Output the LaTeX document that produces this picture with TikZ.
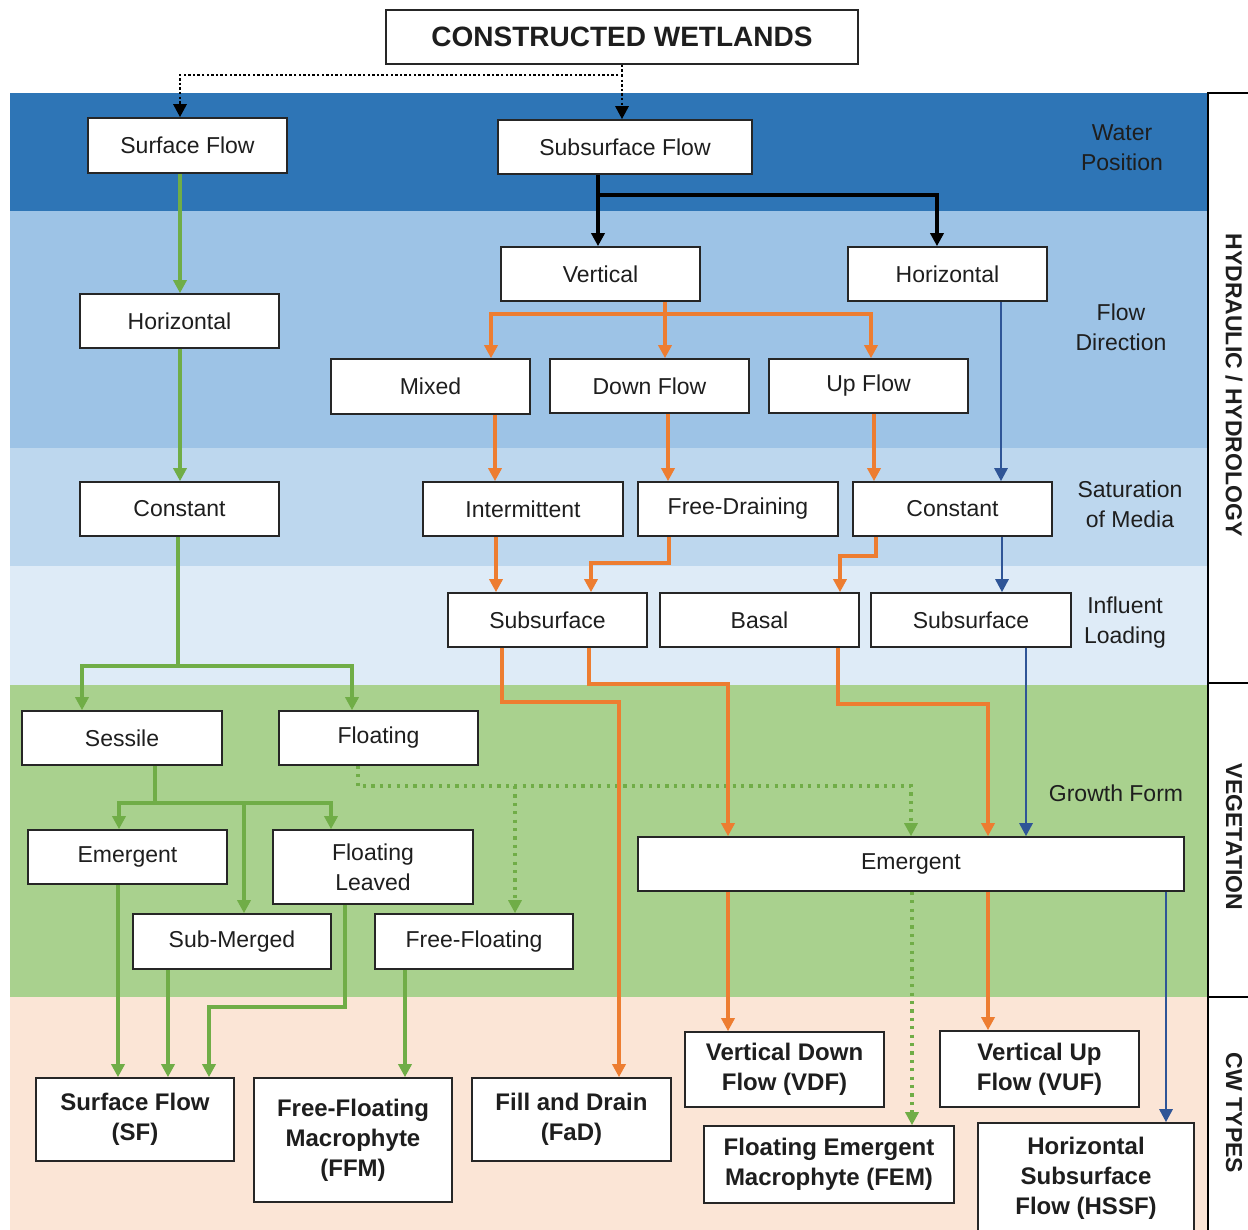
\documentclass[tikz,border=0pt]{standalone}
\usepackage{fontspec}
\setmainfont{Liberation Sans}
\usetikzlibrary{arrows.meta}
\definecolor{bandA}{HTML}{2E75B6}
\definecolor{bandB}{HTML}{9DC3E6}
\definecolor{bandC}{HTML}{BDD7EE}
\definecolor{bandD}{HTML}{DEEBF7}
\definecolor{bandE}{HTML}{A9D18E}
\definecolor{bandF}{HTML}{FBE5D6}
\definecolor{lgreen}{HTML}{70AD47}
\definecolor{lorange}{HTML}{ED7D31}
\definecolor{lblue}{HTML}{2F5597}
\definecolor{txt}{HTML}{1E1E1E}
\newcommand\bnode[7][]{%
  \pgfmathsetmacro\bcx{(#3+#5)/2}%
  \pgfmathsetmacro\bcy{(#4+#6)/2}%
  \pgfmathsetmacro\bw{(#5-#3)*0.5}%
  \pgfmathsetmacro\bh{(#6-#4)*0.5}%
  \node[box,minimum width=\bw pt,minimum height=\bh pt,#1] (#2) at (\bcx,\bcy) {#7};}
\begin{document}
\begin{tikzpicture}[x=0.5pt,y=-0.5pt,
  box/.style={draw=black!85,line width=0.8pt,fill=white,inner sep=1pt,align=center,text=txt,
    font=\fontsize{11.5}{15}\selectfont},
  cwtype/.style={font=\bfseries\fontsize{12}{15}\selectfont},
  titlebox/.style={font=\bfseries\fontsize{14}{16}\selectfont},
  bandlabel/.style={align=center,text=txt,font=\fontsize{11.5}{15}\selectfont},
  sidelabel/.style={rotate=-90,text=txt,font=\bfseries\fontsize{11.5}{13}\selectfont},
  tip/.style={-{Triangle[length=6.5pt,width=6.5pt]}},
  gline/.style={draw=lgreen,line width=1.7pt},
  gdot/.style={draw=lgreen,line width=1.6pt,dash pattern=on 1.6pt off 2.6pt},
  oline/.style={draw=lorange,line width=1.7pt},
  bline/.style={draw=lblue,line width=1.4pt},
  kline/.style={draw=black,line width=1.8pt},
  kdot/.style={draw=black,line width=1.4pt,dash pattern=on 1.2pt off 1.1pt},
  panel/.style={draw=black,line width=1.2pt}
]
\useasboundingbox[fill=white] (0,0) rectangle (1248,1230);
% bands
\fill[bandA] (10,93) rectangle (1208,211);
\fill[bandB] (10,211) rectangle (1208,448);
\fill[bandC] (10,448) rectangle (1208,566);
\fill[bandD] (10,566) rectangle (1208,685);
\fill[bandE] (10,685) rectangle (1208,997);
\fill[bandF] (10,997) rectangle (1208,1230);
% right panel
\draw[panel] (1248,93) -- (1208,93) -- (1208,1232);
\draw[panel] (1208,683) -- (1248,683);
\draw[panel] (1208,997) -- (1248,997);
\node[sidelabel] (sideA) at (1234,385) {HYDRAULIC / HYDROLOGY};
\node[sidelabel] (sideB) at (1234,837) {VEGETATION};
\node[sidelabel] (sideC) at (1234,1113) {CW TYPES};
% band labels
\node[bandlabel] (lwater) at (1122,148) {Water\\Position};
\node[bandlabel] (lflow) at (1121,327) {Flow\\Direction};
\node[bandlabel] (lsat) at (1130,504) {Saturation\\of Media};
\node[bandlabel] (linf) at (1125,623) {Influent\\Loading};
\node[bandlabel] (lgrow) at (1116,793) {Growth Form};
% nodes
\bnode[titlebox]{title}{386}{10}{858}{64}{CONSTRUCTED WETLANDS}
\bnode{sflow}{88}{118}{287}{173}{Surface Flow}
\bnode{subflow}{498}{120}{752}{174}{Subsurface Flow}
\bnode{vert}{501}{247}{700}{301}{Vertical}
\bnode{hor}{848}{247}{1047}{301}{Horizontal}
\bnode{hleft}{80}{294}{279}{348}{Horizontal}
\bnode{mixed}{331}{359}{530}{414}{Mixed}
\bnode{downf}{550}{359}{749}{413}{Down Flow}
\bnode{upf}{769}{359}{968}{413}{Up Flow}
\bnode{cleft}{80}{482}{279}{536}{Constant}
\bnode{interm}{423}{482}{623}{536}{Intermittent}
\bnode{freedr}{638}{482}{838}{536}{Free-Draining}
\bnode{cright}{853}{482}{1052}{536}{Constant}
\bnode{subA}{448}{593}{647}{647}{Subsurface}
\bnode{basal}{660}{593}{859}{647}{Basal}
\bnode{subB}{871}{593}{1071}{647}{Subsurface}
\bnode{sessile}{22}{711}{222}{765}{Sessile}
\bnode{floating}{279}{711}{478}{765}{Floating}
\bnode{emleft}{28}{830}{227}{884}{Emergent}
\bnode{flleaved}{273}{830}{473}{904}{Floating\\Leaved}
\bnode{submerged}{133}{914}{331}{969}{Sub-Merged}
\bnode{freefl}{375}{914}{573}{969}{Free-Floating}
\bnode{emright}{638}{837}{1184}{891}{Emergent}
\bnode[cwtype]{sf}{36}{1078}{234}{1161}{Surface Flow\\(SF)}
\bnode[cwtype]{ffm}{254}{1078}{452}{1202}{Free-Floating\\Macrophyte\\(FFM)}
\bnode[cwtype]{fad}{472}{1078}{671}{1161}{Fill and Drain\\(FaD)}
\bnode[cwtype]{vdf}{685}{1032}{884}{1107}{Vertical Down\\Flow (VDF)}
\bnode[cwtype]{vuf}{940}{1031}{1139}{1107}{Vertical Up\\Flow (VUF)}
\bnode[cwtype]{fem}{704}{1126}{954}{1203}{Floating Emergent\\Macrophyte (FEM)}
\bnode[cwtype]{hssf}{978}{1123}{1194}{1234}{Horizontal\\Subsurface\\Flow (HSSF)}
% black dotted
\coordinate (dj) at (622,75);
\draw[kdot,tip] (title.south) -- (dj) -- (dj -| 180,0) -- (sflow.north -| 180,0);
\draw[kdot,tip] (dj) -- (subflow.north -| dj);
% black solid
\coordinate (kj) at (598,195);
\draw[kline,tip] (subflow.south -| kj) -- (vert.north -| kj);
\draw[kline,tip] (kj) -- (937,195) -- (hor.north -| 937,0);
% green
\draw[gline,tip] (sflow.south -| 180,0) -- (hleft.north -| 180,0);
\draw[gline,tip] (hleft.south -| 180,0) -- (cleft.north -| 180,0);
\draw[gline,tip] (cleft.south -| 178,0) -- (178,666) -- (82,666) -- (sessile.north -| 82,0);
\draw[gline,tip] (178,666) -- (352,666) -- (floating.north -| 352,0);
\draw[gline,tip] (sessile.south -| 155,0) -- (155,803) -- (119,803) -- (emleft.north -| 119,0);
\draw[gline,tip] (155,803) -- (331,803) -- (flleaved.north -| 331,0);
\draw[gline,tip] (244,803) -- (submerged.north -| 244,0);
\draw[gline,tip] (emleft.south -| 118,0) -- (sf.north -| 118,0);
\draw[gline,tip] (submerged.south -| 168,0) -- (sf.north -| 168,0);
\draw[gline,tip] (flleaved.south -| 345,0) -- (345,1007) -- (209,1007) -- (sf.north -| 209,0);
\draw[gline,tip] (freefl.south -| 405,0) -- (ffm.north -| 405,0);
% green dotted
\draw[gdot,tip] (floating.south -| 358,0) -- (358,786) -- (911,786) -- (emright.north -| 911,0);
\draw[gdot,tip] (515,786) -- (freefl.north -| 515,0);
\draw[gdot,tip] (emright.south -| 912,0) -- (fem.north -| 912,0);
% orange
\draw[oline,tip] (vert.south -| 665,0) -- (665,314) -- (491,314) -- (mixed.north -| 491,0);
\draw[oline,tip] (665,314) -- (downf.north -| 665,0);
\draw[oline,tip] (665,314) -- (871,314) -- (upf.north -| 871,0);
\draw[oline,tip] (mixed.south -| 495,0) -- (interm.north -| 495,0);
\draw[oline,tip] (downf.south -| 668,0) -- (freedr.north -| 668,0);
\draw[oline,tip] (upf.south -| 874,0) -- (cright.north -| 874,0);
\draw[oline,tip] (interm.south -| 496,0) -- (subA.north -| 496,0);
\draw[oline,tip] (freedr.south -| 669,0) -- (669,563) -- (591,563) -- (subA.north -| 591,0);
\draw[oline,tip] (cright.south -| 876,0) -- (876,556) -- (840,556) -- (basal.north -| 840,0);
\draw[oline,tip] (subA.south -| 502,0) -- (502,702) -- (619,702) -- (fad.north -| 619,0);
\draw[oline,tip] (subA.south -| 589,0) -- (589,684) -- (728,684) -- (emright.north -| 728,0);
\draw[oline,tip] (basal.south -| 838,0) -- (838,704) -- (988,704) -- (emright.north -| 988,0);
\draw[oline,tip] (emright.south -| 728,0) -- (vdf.north -| 728,0);
\draw[oline,tip] (emright.south -| 988,0) -- (vuf.north -| 988,0);
% blue
\draw[bline,tip] (hor.south -| 1001,0) -- (cright.north -| 1001,0);
\draw[bline,tip] (cright.south -| 1002,0) -- (subB.north -| 1002,0);
\draw[bline,tip] (subB.south -| 1026,0) -- (emright.north -| 1026,0);
\draw[bline,tip] (emright.south -| 1166,0) -- (hssf.north -| 1166,0);
\end{tikzpicture}
\end{document}
